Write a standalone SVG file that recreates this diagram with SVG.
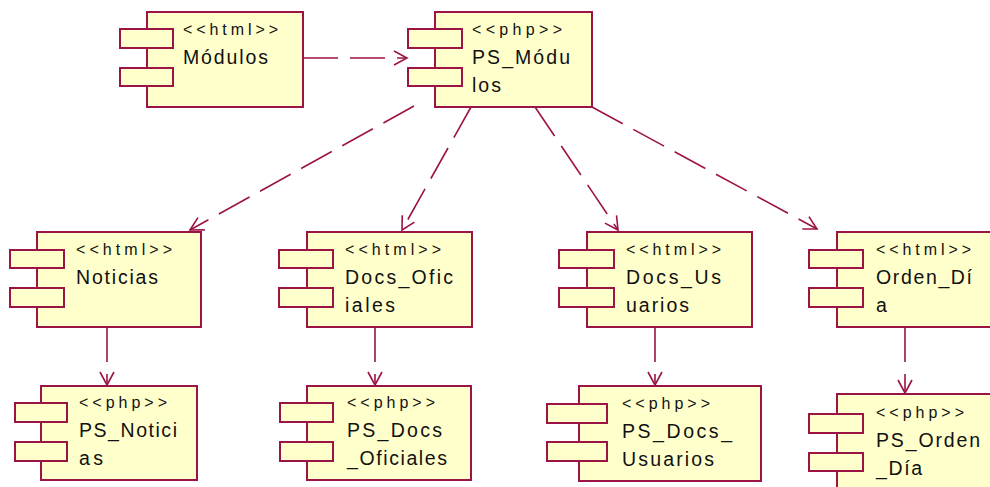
<svg xmlns="http://www.w3.org/2000/svg" width="990" height="487" viewBox="0 0 990 487">
<defs>
<style>
.b{fill:#ffffcc;stroke:#9c1446;stroke-width:2}
.s{font-family:"Liberation Sans",Arial,sans-serif;font-size:16px;fill:#111}
.n{font-family:"Liberation Sans",Arial,sans-serif;font-size:19.5px;fill:#111}
.c{fill:none;stroke:#9c1446;stroke-width:1.6;stroke-dasharray:35 12}
</style>
<marker id="arr" markerWidth="18" markerHeight="18" refX="15" refY="9" orient="auto" markerUnits="userSpaceOnUse">
<path d="M2 2 L15 9 L2 16" fill="none" stroke="#9c1446" stroke-width="1.6"/>
</marker>
</defs>
<rect width="990" height="487" fill="#fff"/>
<g id="connectors">
<line class="c" x1="303" y1="58" x2="407" y2="58" marker-end="url(#arr)"/>
<line class="c" x1="414" y1="106" x2="190" y2="230" marker-end="url(#arr)"/>
<line class="c" x1="471" y1="107" x2="402" y2="230" marker-end="url(#arr)"/>
<line class="c" x1="535" y1="107" x2="618" y2="230" marker-end="url(#arr)"/>
<line class="c" x1="592" y1="107" x2="817" y2="229" marker-end="url(#arr)"/>
<line class="c" x1="107" y1="327" x2="107" y2="385" marker-end="url(#arr)"/>
<line class="c" x1="375" y1="327" x2="375" y2="385" marker-end="url(#arr)"/>
<line class="c" x1="655" y1="327" x2="655" y2="385" marker-end="url(#arr)"/>
<line class="c" x1="905" y1="327" x2="905" y2="393" marker-end="url(#arr)"/>
</g>
<g id="modulos">
<rect class="b" x="147" y="12" width="156" height="95"/>
<rect class="b" x="120" y="29" width="53" height="19"/>
<rect class="b" x="120" y="68" width="53" height="18"/>
<text class="s" x="183" y="35" textLength="95" lengthAdjust="spacing">&lt;&lt;html&gt;&gt;</text>
<text class="n" x="183" y="64" textLength="85" lengthAdjust="spacing">Módulos</text>
</g>
<g id="ps_modulos">
<rect class="b" x="435" y="12" width="157" height="95"/>
<rect class="b" x="408" y="29" width="54" height="19"/>
<rect class="b" x="408" y="68" width="54" height="18"/>
<text class="s" x="472" y="35" textLength="90" lengthAdjust="spacing">&lt;&lt;php&gt;&gt;</text>
<text class="n" x="472" y="64" textLength="98" lengthAdjust="spacing">PS_Módu</text>
<text class="n" x="472" y="92" textLength="29" lengthAdjust="spacing">los</text>
</g>
<g id="noticias">
<rect class="b" x="37" y="232" width="164" height="95"/>
<rect class="b" x="10" y="250" width="54" height="18"/>
<rect class="b" x="10" y="288" width="54" height="19"/>
<text class="s" x="76" y="255" textLength="96" lengthAdjust="spacing">&lt;&lt;html&gt;&gt;</text>
<text class="n" x="76" y="284" textLength="82" lengthAdjust="spacing">Noticias</text>
</g>
<g id="docs_oficiales">
<rect class="b" x="307" y="232" width="165" height="95"/>
<rect class="b" x="279" y="250" width="54" height="18"/>
<rect class="b" x="279" y="288" width="54" height="19"/>
<text class="s" x="345" y="255" textLength="96" lengthAdjust="spacing">&lt;&lt;html&gt;&gt;</text>
<text class="n" x="345" y="284" textLength="108" lengthAdjust="spacing">Docs_Ofic</text>
<text class="n" x="345" y="312" textLength="50" lengthAdjust="spacing">iales</text>
</g>
<g id="docs_usuarios">
<rect class="b" x="587" y="232" width="165" height="95"/>
<rect class="b" x="559" y="250" width="55" height="18"/>
<rect class="b" x="559" y="288" width="55" height="19"/>
<text class="s" x="626" y="255" textLength="95" lengthAdjust="spacing">&lt;&lt;html&gt;&gt;</text>
<text class="n" x="626" y="284" textLength="95" lengthAdjust="spacing">Docs_Us</text>
<text class="n" x="626" y="312" textLength="63" lengthAdjust="spacing">uarios</text>
</g>
<g id="orden_dia">
<rect class="b" x="837" y="232" width="165" height="95"/>
<rect class="b" x="809" y="250" width="54" height="18"/>
<rect class="b" x="809" y="288" width="54" height="19"/>
<text class="s" x="876" y="255" textLength="95" lengthAdjust="spacing">&lt;&lt;html&gt;&gt;</text>
<text class="n" x="876" y="284" textLength="96" lengthAdjust="spacing">Orden_Dí</text>
<text class="n" x="876" y="312">a</text>
</g>
<g id="ps_noticias">
<rect class="b" x="41" y="386" width="156" height="94"/>
<rect class="b" x="15" y="403" width="52" height="19"/>
<rect class="b" x="15" y="442" width="52" height="19"/>
<text class="s" x="79" y="408" textLength="88" lengthAdjust="spacing">&lt;&lt;php&gt;&gt;</text>
<text class="n" x="79" y="437" textLength="98" lengthAdjust="spacing">PS_Notici</text>
<text class="n" x="79" y="465" textLength="24" lengthAdjust="spacing">as</text>
</g>
<g id="ps_docs_oficiales">
<rect class="b" x="307" y="386" width="164" height="94"/>
<rect class="b" x="280" y="403" width="53" height="19"/>
<rect class="b" x="280" y="442" width="53" height="19"/>
<text class="s" x="347" y="408" textLength="88" lengthAdjust="spacing">&lt;&lt;php&gt;&gt;</text>
<text class="n" x="347" y="437" textLength="95" lengthAdjust="spacing">PS_Docs</text>
<text class="n" x="347" y="465" textLength="100" lengthAdjust="spacing">_Oficiales</text>
</g>
<g id="ps_docs_usuarios">
<rect class="b" x="579" y="386" width="182" height="95"/>
<rect class="b" x="547" y="404" width="60" height="19"/>
<rect class="b" x="547" y="442" width="60" height="19"/>
<text class="s" x="622" y="409" textLength="88" lengthAdjust="spacing">&lt;&lt;php&gt;&gt;</text>
<text class="n" x="622" y="438" textLength="110" lengthAdjust="spacing">PS_Docs_</text>
<text class="n" x="622" y="466" textLength="92" lengthAdjust="spacing">Usuarios</text>
</g>
<g id="ps_orden_dia">
<rect class="b" x="837" y="394" width="165" height="95"/>
<rect class="b" x="809" y="414" width="54" height="19"/>
<rect class="b" x="809" y="453" width="54" height="18"/>
<text class="s" x="876" y="418" textLength="88" lengthAdjust="spacing">&lt;&lt;php&gt;&gt;</text>
<text class="n" x="876" y="447" textLength="104" lengthAdjust="spacing">PS_Orden</text>
<text class="n" x="876" y="475" textLength="46" lengthAdjust="spacing">_Día</text>
</g>
</svg>
